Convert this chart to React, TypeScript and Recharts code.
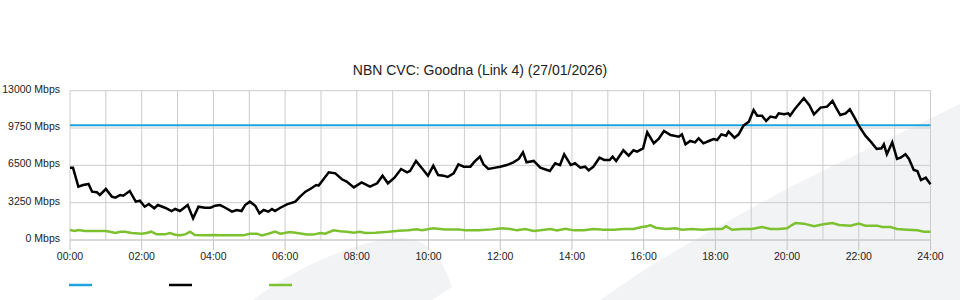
import { LineChart, Line, XAxis, YAxis, CartesianGrid } from "recharts";

const title = "NBN CVC: Goodna (Link 4) (27/01/2026)";

// x axis: minutes since midnight
const xTicks = [
  0, 60, 120, 180, 240, 300, 360, 420, 480, 540, 600, 660, 720,
  780, 840, 900, 960, 1020, 1080, 1140, 1200, 1260, 1320, 1380, 1440,
];
const yTicks = [0, 3250, 6500, 9750, 13000];

const capacityMinutes = [0, 1440];
const capacityMbps = [10000, 10000];

const downMinutes = [
  0, 5, 14, 22, 31, 37, 45, 50, 60, 70, 76, 84, 89, 100, 110, 117, 125, 132, 141, 147,
  159, 170, 176, 184, 197, 206, 215, 226, 235, 243, 251, 260, 271, 279, 287, 293, 301, 310, 317, 324,
  332, 338, 343, 352, 363, 377, 385, 394, 402, 412, 416, 421, 433, 444, 455, 463, 475, 488, 502, 514,
  523, 532, 543, 554, 564, 569, 579, 589, 599, 608, 616, 625, 632, 642, 650, 659, 670, 677, 686, 692,
  700, 712, 720, 731, 742, 751, 758, 764, 776, 787, 803, 812, 820, 827, 838, 845, 854, 862, 868, 876,
  886, 894, 903, 908, 914, 926, 935, 943, 949, 959, 966, 977, 985, 994, 1005, 1019, 1024, 1030, 1038, 1046,
  1052, 1060, 1069, 1077, 1083, 1090, 1098, 1102, 1112, 1119, 1127, 1136, 1144, 1150, 1158, 1165, 1172, 1181, 1186, 1195,
  1202, 1205, 1213, 1228, 1237, 1245, 1256, 1267, 1276, 1281, 1289, 1298, 1305, 1312, 1320, 1331, 1340, 1350, 1358, 1362,
  1367, 1376, 1384, 1390, 1398, 1404, 1412, 1418, 1424, 1432, 1440,
];
const downMbps = [
  6300, 6300, 4640, 4785, 4875, 4205, 4155, 3920, 4440, 3775, 3685, 3920, 3860, 4265, 3340, 3420, 2900, 3135, 2760, 3045,
  2810, 2525, 2700, 2525, 3045, 1885, 2900, 2810, 2810, 2985, 3045, 2810, 2465, 2615, 2525, 3045, 3340, 2985, 2320, 2615,
  2465, 2700, 2525, 2810, 3105, 3340, 3775, 4205, 4440, 4785, 4735, 5080, 5895, 5800, 5285, 5080, 4580, 5020, 4640, 4935,
  5600, 4935, 5425, 6180, 5895, 6005, 6880, 6240, 5600, 6475, 5660, 5600, 5485, 5800, 6585, 6385, 6385, 6820, 7260, 6585,
  6180, 6300, 6385, 6525, 6760, 7055, 7635, 6760, 6880, 6300, 6005, 6680, 6525, 7460, 6525, 6680, 6300, 6385, 6065, 6385,
  7165, 6965, 6965, 7260, 6880, 7810, 7340, 7810, 7695, 7980, 9380, 8420, 8795, 9490, 9140, 9000, 9200, 8325, 8620, 8500,
  8855, 8420, 8620, 8795, 8705, 9200, 9080, 9435, 8905, 9200, 9955, 10300, 11320, 10820, 10820, 10365, 10740, 10650, 11025, 10945,
  11025, 10820, 11400, 12340, 11760, 10945, 11525, 11605, 12105, 11605, 10880, 11025, 11380, 10740, 9955, 9080, 8560, 7920, 7980, 8325,
  7460, 8500, 7055, 7165, 7460, 7055, 6100, 6005, 5220, 5425, 4845,
];

const upMinutes = [
  0, 8, 14, 25, 59, 67, 76, 84, 92, 103, 120, 128, 136, 145, 159, 167, 176, 184, 193, 201,
  209, 226, 243, 251, 290, 301, 313, 321, 332, 343, 352, 368, 380, 397, 407, 419, 427, 441, 452, 463,
  475, 485, 494, 511, 533, 550, 566, 580, 589, 608, 628, 650, 661, 684, 706, 723, 737, 748, 762, 776,
  787, 804, 815, 829, 843, 860, 876, 893, 910, 926, 943, 957, 966, 971, 980, 997, 1013, 1024, 1041, 1058,
  1075, 1091, 1098, 1108, 1125, 1141, 1158, 1172, 1186, 1200, 1208, 1214, 1228, 1245, 1261, 1276, 1287, 1306, 1320, 1331,
  1351, 1359, 1373, 1384, 1401, 1418, 1429, 1440,
];
const upMbps = [
  870, 785, 870, 785, 785, 725, 610, 725, 725, 610, 550, 610, 725, 490, 490, 610, 460, 405, 490, 725,
  440, 405, 440, 405, 405, 550, 550, 405, 550, 725, 550, 690, 610, 470, 470, 610, 550, 840, 755, 725,
  640, 725, 610, 640, 725, 815, 840, 925, 840, 1020, 925, 925, 840, 840, 925, 1020, 955, 840, 955, 785,
  840, 955, 840, 985, 840, 840, 955, 895, 895, 955, 955, 1130, 1190, 1300, 1070, 955, 1020, 895, 955, 895,
  955, 955, 1190, 895, 955, 955, 1130, 955, 955, 1020, 1300, 1475, 1425, 1190, 1365, 1475, 1300, 1250, 1425, 1250,
  1250, 1130, 1130, 955, 895, 840, 725, 725,
];

const BLUE = "#1ea3de";
const BLACK = "#000000";
const GREEN = "#7dc130";
const legendColors = [BLUE, BLACK, GREEN];

const toRows = (minutes: number[], values: number[]) =>
  minutes.map((t, i) => ({ t, v: values[i] }));

const capacityData = toRows(capacityMinutes, capacityMbps);
const downData = toRows(downMinutes, downMbps);
const upData = toRows(upMinutes, upMbps);

const FONT = '"Liberation Sans", Arial, sans-serif';

const hhmm = (m: number) => `${String(Math.floor(m / 60)).padStart(2, "0")}:00`;

function XTick(props: any) {
  const { x, y, payload } = props;
  if (payload.value % 120 !== 0) return null;
  return (
    <g>
      <line x1={x} y1={y - 12} x2={x} y2={y - 2} stroke="#c4c4c4" />
      <text x={x} y={y + 8} textAnchor="middle" fontSize={10.5} fontFamily={FONT} fill="#222">
        {hhmm(payload.value)}
      </text>
    </g>
  );
}

function YTick(props: any) {
  const { x, y, payload } = props;
  return (
    <text x={x} y={y + 2} textAnchor="end" fontSize={10.5} fontFamily={FONT} fill="#222">
      {`${payload.value} Mbps`}
    </text>
  );
}

export default function App() {
  return (
    <div style={{ position: "absolute", left: 0, top: 0, width: 960, height: 300, background: "#fff", overflow: "hidden" }}>
      <svg width={960} height={300} style={{ position: "absolute", left: 0, top: 0 }}>
        <path d="M253,300 C290,270 360,238 403,238 C430,240 442,258 452,287 L432,300 Z" fill="#f2f3f5" />
        <path d="M600,300 L650,266 Q700,236 790,187 L960,104 L960,300 Z" fill="#f2f3f5" />
      </svg>
      <div
        style={{
          position: "absolute",
          top: 62,
          left: 0,
          width: 960,
          textAlign: "center",
          fontFamily: FONT,
          fontSize: 14,
          lineHeight: "16px",
          color: "#222",
        }}
      >
        {title}
      </div>
      <div style={{ position: "absolute", left: 0, top: 0 }}>
        <LineChart width={960} height={300} margin={{ top: 90.67, right: 29.5, bottom: 30, left: 0 }}>
          <CartesianGrid stroke="#cccccc" />
          <XAxis
            type="number"
            dataKey="t"
            domain={[0, 1440]}
            ticks={xTicks}
            interval={0}
            height={30}
            tickLine={false}
            tickSize={10}
            tickMargin={2}
            axisLine={{ stroke: "#cccccc" }}
            tick={<XTick />}
          />
          <YAxis
            type="number"
            domain={[0, 13000]}
            ticks={yTicks}
            interval={0}
            width={70}
            axisLine={false}
            tickLine={false}
            tickSize={0}
            tickMargin={10}
            tick={<YTick />}
          />
          <Line data={capacityData} dataKey="v" stroke={BLUE} strokeWidth={2} dot={false} isAnimationActive={false} />
          <Line data={downData} dataKey="v" stroke={BLACK} strokeWidth={2.5} dot={false} isAnimationActive={false} />
          <Line data={upData} dataKey="v" stroke={GREEN} strokeWidth={2.5} dot={false} isAnimationActive={false} />
        </LineChart>
      </div>
      <svg width={960} height={300} style={{ position: "absolute", left: 0, top: 0, pointerEvents: "none" }}>
        {legendColors.map((c, i) => (
          <line key={c} x1={69 + i * 100} y1={285} x2={92 + i * 100} y2={285} stroke={c} strokeWidth={2.5} />
        ))}
      </svg>
    </div>
  );
}
